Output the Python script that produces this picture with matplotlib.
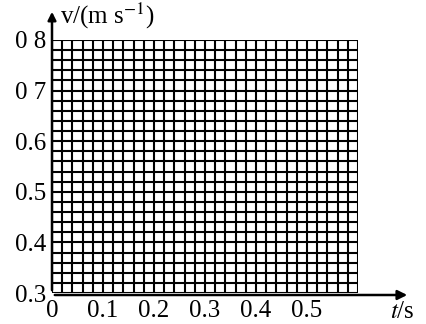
import matplotlib
matplotlib.use("Agg")
import matplotlib.pyplot as plt
import numpy as np

x_ticks = [0, 0.1, 0.2, 0.3, 0.4, 0.5]
x_labels = ["0", "0.1", "0.2", "0.3", "0.4", "0.5"]
y_ticks = [0.3, 0.4, 0.5, 0.6, 0.7, 0.8]
y_labels = ["0.3", "0.4", "0.5", "0.6", "0 7", "0 8"]
x_max = 0.6
cell = 0.02

plt.rcParams['font.family'] = ['Liberation Serif', 'DejaVu Serif']
plt.rcParams['mathtext.fontset'] = 'stix'

W, H = 426, 324
fig = plt.figure(figsize=(W/100, H/100), dpi=100)
left, right, top, bottom = 52, 358, 40, 293
ax = fig.add_axes([left/W, (H-bottom)/H, (right-left)/W, (bottom-top)/H])
ax.set_xlim(0, x_max)
ax.set_ylim(0.3, 0.8)

gx = np.arange(0, x_max + 1e-9, cell)
gy = np.arange(0.3, 0.8 + 1e-9, cell)
for v in gx:
    ax.axvline(v, color='black', lw=1.5)
for v in gy:
    ax.axhline(v, color='black', lw=1.5)

for s in ax.spines.values():
    s.set_visible(False)
ax.set_xticks(x_ticks)
ax.set_xticklabels(x_labels, fontsize=18)
ax.set_yticks(y_ticks)
ax.set_yticklabels(y_labels, fontsize=18)
ax.tick_params(axis='x', length=0, pad=5)
ax.tick_params(axis='y', length=0, pad=4)

# axes arrows
ax.annotate('', xy=(410/W, (H-295)/H), xytext=(left/W, (H-295)/H),
            xycoords='figure fraction', textcoords='figure fraction',
            arrowprops=dict(arrowstyle='-|>', color='black', lw=1.8, mutation_scale=14))
ax.annotate('', xy=(left/W, (H-9)/H), xytext=(left/W, (H-293)/H),
            xycoords='figure fraction', textcoords='figure fraction',
            arrowprops=dict(arrowstyle='-|>', color='black', lw=1.8, mutation_scale=12))

fig.text(60/W, (H-16)/H, "v/(m s$^{-1}$)", fontsize=18, va='center', ha='left')
fig.text(390/W, (H-312)/H, "$\\mathit{t}$/s", fontsize=18, va='center', ha='left')

fig.savefig("out.png", dpi=100, facecolor='white')
